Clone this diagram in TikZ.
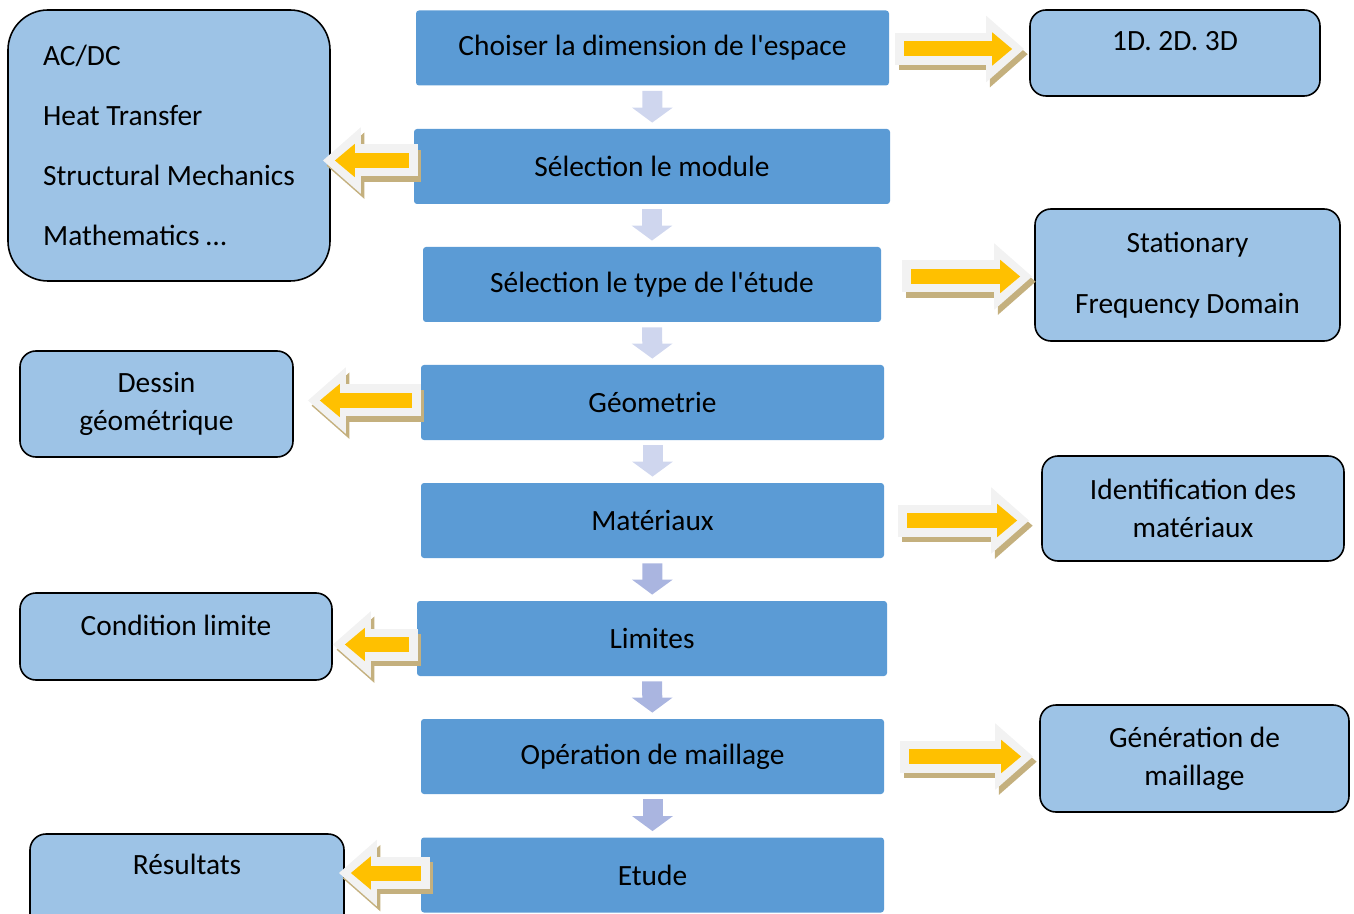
\documentclass[tikz,border=0pt]{standalone}
\usepackage{fontspec}
\setmainfont{Carlito}
\usetikzlibrary{arrows.meta}
\definecolor{mainblue}{HTML}{5B9BD5}
\definecolor{sideblue}{HTML}{9DC3E6}
\definecolor{arrowyellow}{HTML}{FFC000}
\definecolor{arrowrim}{HTML}{F2F2F2}
\definecolor{arrowtan}{HTML}{C4B07E}
\definecolor{downlight}{HTML}{CFD6EE}
\definecolor{downdark}{HTML}{AAB5E0}
\begin{document}
\begin{tikzpicture}[
x=0.5pt, y=-0.5pt,
font=\fontsize{14.7}{19}\selectfont,
mainbox/.style = {fill=mainblue,rounded corners=1.5pt,minimum height=37.5pt,inner sep=0pt},
sidebox/.style = {draw,fill=sideblue,line width=0.8pt,rounded corners=8pt,align=center,inner sep=0pt},
down/.style = {line width=10pt,-{Triangle[length=7.5pt,width=20pt]},shorten <=2.5pt,shorten >=3pt},
side/.style = {arrowyellow,line width=7.5pt,-{Triangle[length=10pt,width=16pt]},
  shorten <=4.5pt,shorten >=6pt,
  preaction={draw=arrowtan,line width=16pt,-{Triangle[length=19pt,width=32pt]},shorten <=0pt,shorten >=0pt,
    transform canvas={shift={(1.8pt,-2.6pt)}}},
  preaction={draw=arrowrim,line width=16pt,-{Triangle[length=19pt,width=32pt]},shorten <=0pt,shorten >=0pt}}
]
  \useasboundingbox (0,0) rectangle (1354,914);

  % main steps
  \node[mainbox,minimum width=236.5pt] (m1) at (652.5,48) {Choiser la dimension de l\textquotesingle espace};
  \node[mainbox,minimum width=238pt] (m2) at (652,166.5) {Sélection le module};
  \node[mainbox,minimum width=229pt] (m3) at (652,284.5) {Sélection le type de l\textquotesingle étude};
  \node[mainbox,minimum width=231.5pt] (m4) at (652.5,402.5) {Géometrie};
  \node[mainbox,minimum width=231.5pt] (m5) at (652.5,520.5) {Matériaux};
  \node[mainbox,minimum width=235pt] (m6) at (652,638.5) {Limites};
  \node[mainbox,minimum width=231.5pt] (m7) at (652.5,756.5) {Opération de maillage};
  \node[mainbox,minimum width=231.5pt] (m8) at (652.5,875) {Etude};

  % side boxes
  \node[sidebox,minimum width=145pt,minimum height=43pt,text height=10pt,text depth=12pt] (s1) at (1175,53) {1D. 2D. 3D};
  \node[sidebox,minimum width=161pt,minimum height=135.5pt,rounded corners=20pt,align=left] (s2) at (169,145.5)
    {AC/DC\\[11pt]Heat Transfer\\[11pt]Structural Mechanics\\[11pt]Mathematics \dots};
  \node[sidebox,minimum width=152.5pt,minimum height=66pt] (s3) at (1187.5,275) {Stationary\\[11.5pt]Frequency Domain};
  \node[sidebox,minimum width=136.5pt,minimum height=53pt] (s4) at (156.5,404) {Dessin\\géométrique};
  \node[sidebox,minimum width=151pt,minimum height=52.5pt] (s5) at (1193,508.5) {Identification des\\matériaux};
  \node[sidebox,minimum width=156pt,minimum height=43.5pt,text height=10pt,text depth=11.5pt] (s6) at (176,636.5) {Condition limite};
  \node[sidebox,minimum width=157pt,minimum height=50pt,text height=10pt,text depth=19.5pt] (s8) at (187,884) {Résultats};
  \node[sidebox,minimum width=154.5pt,minimum height=53.5pt] (s7) at (1194.5,758.5) {Génération de\\maillage};

  % flow down
  \draw[down,downlight] (m1) -- (m2);
  \draw[down,downlight] (m2) -- (m3);
  \draw[down,downlight] (m3) -- (m4);
  \draw[down,downlight] (m4) -- (m5);
  \draw[down,downdark] (m5) -- (m6);
  \draw[down,downdark] (m6) -- (m7);
  \draw[down,downdark] (m7) -- (m8);

  % side arrows
  \draw[side] ([xshift=3pt,yshift=-0.5pt]m1.east) -- ([xshift=-2.5pt,yshift=-0.5pt]m1.east -| s1.west);
  \draw[side] ([xshift=2pt,yshift=3pt]m2.west) -- ([xshift=-4pt,yshift=3pt]m2.west -| s2.east);
  \draw[side] ([xshift=10.5pt,yshift=4pt]m3.east) -- ([xshift=-1pt,yshift=4pt]m3.east -| s3.west);
  \draw[side] ([yshift=1pt]m4.west) -- ([xshift=7pt,yshift=1pt]m4.west -| s4.east);
  \draw[side] ([xshift=7pt]m5.east) -- ([xshift=-6pt]m5.east -| s5.west);
  \draw[side] ([xshift=0.5pt,yshift=-3pt]m6.west) -- ([yshift=-3pt]m6.west -| s6.east);
  \draw[side] ([xshift=8pt]m7.east) -- ([xshift=-3pt]m7.east -| s7.west);
  \draw[side] ([xshift=4.5pt,yshift=1pt]m8.west) -- ([xshift=-3pt,yshift=1pt]m8.west -| s8.east);
\end{tikzpicture}
\end{document}
